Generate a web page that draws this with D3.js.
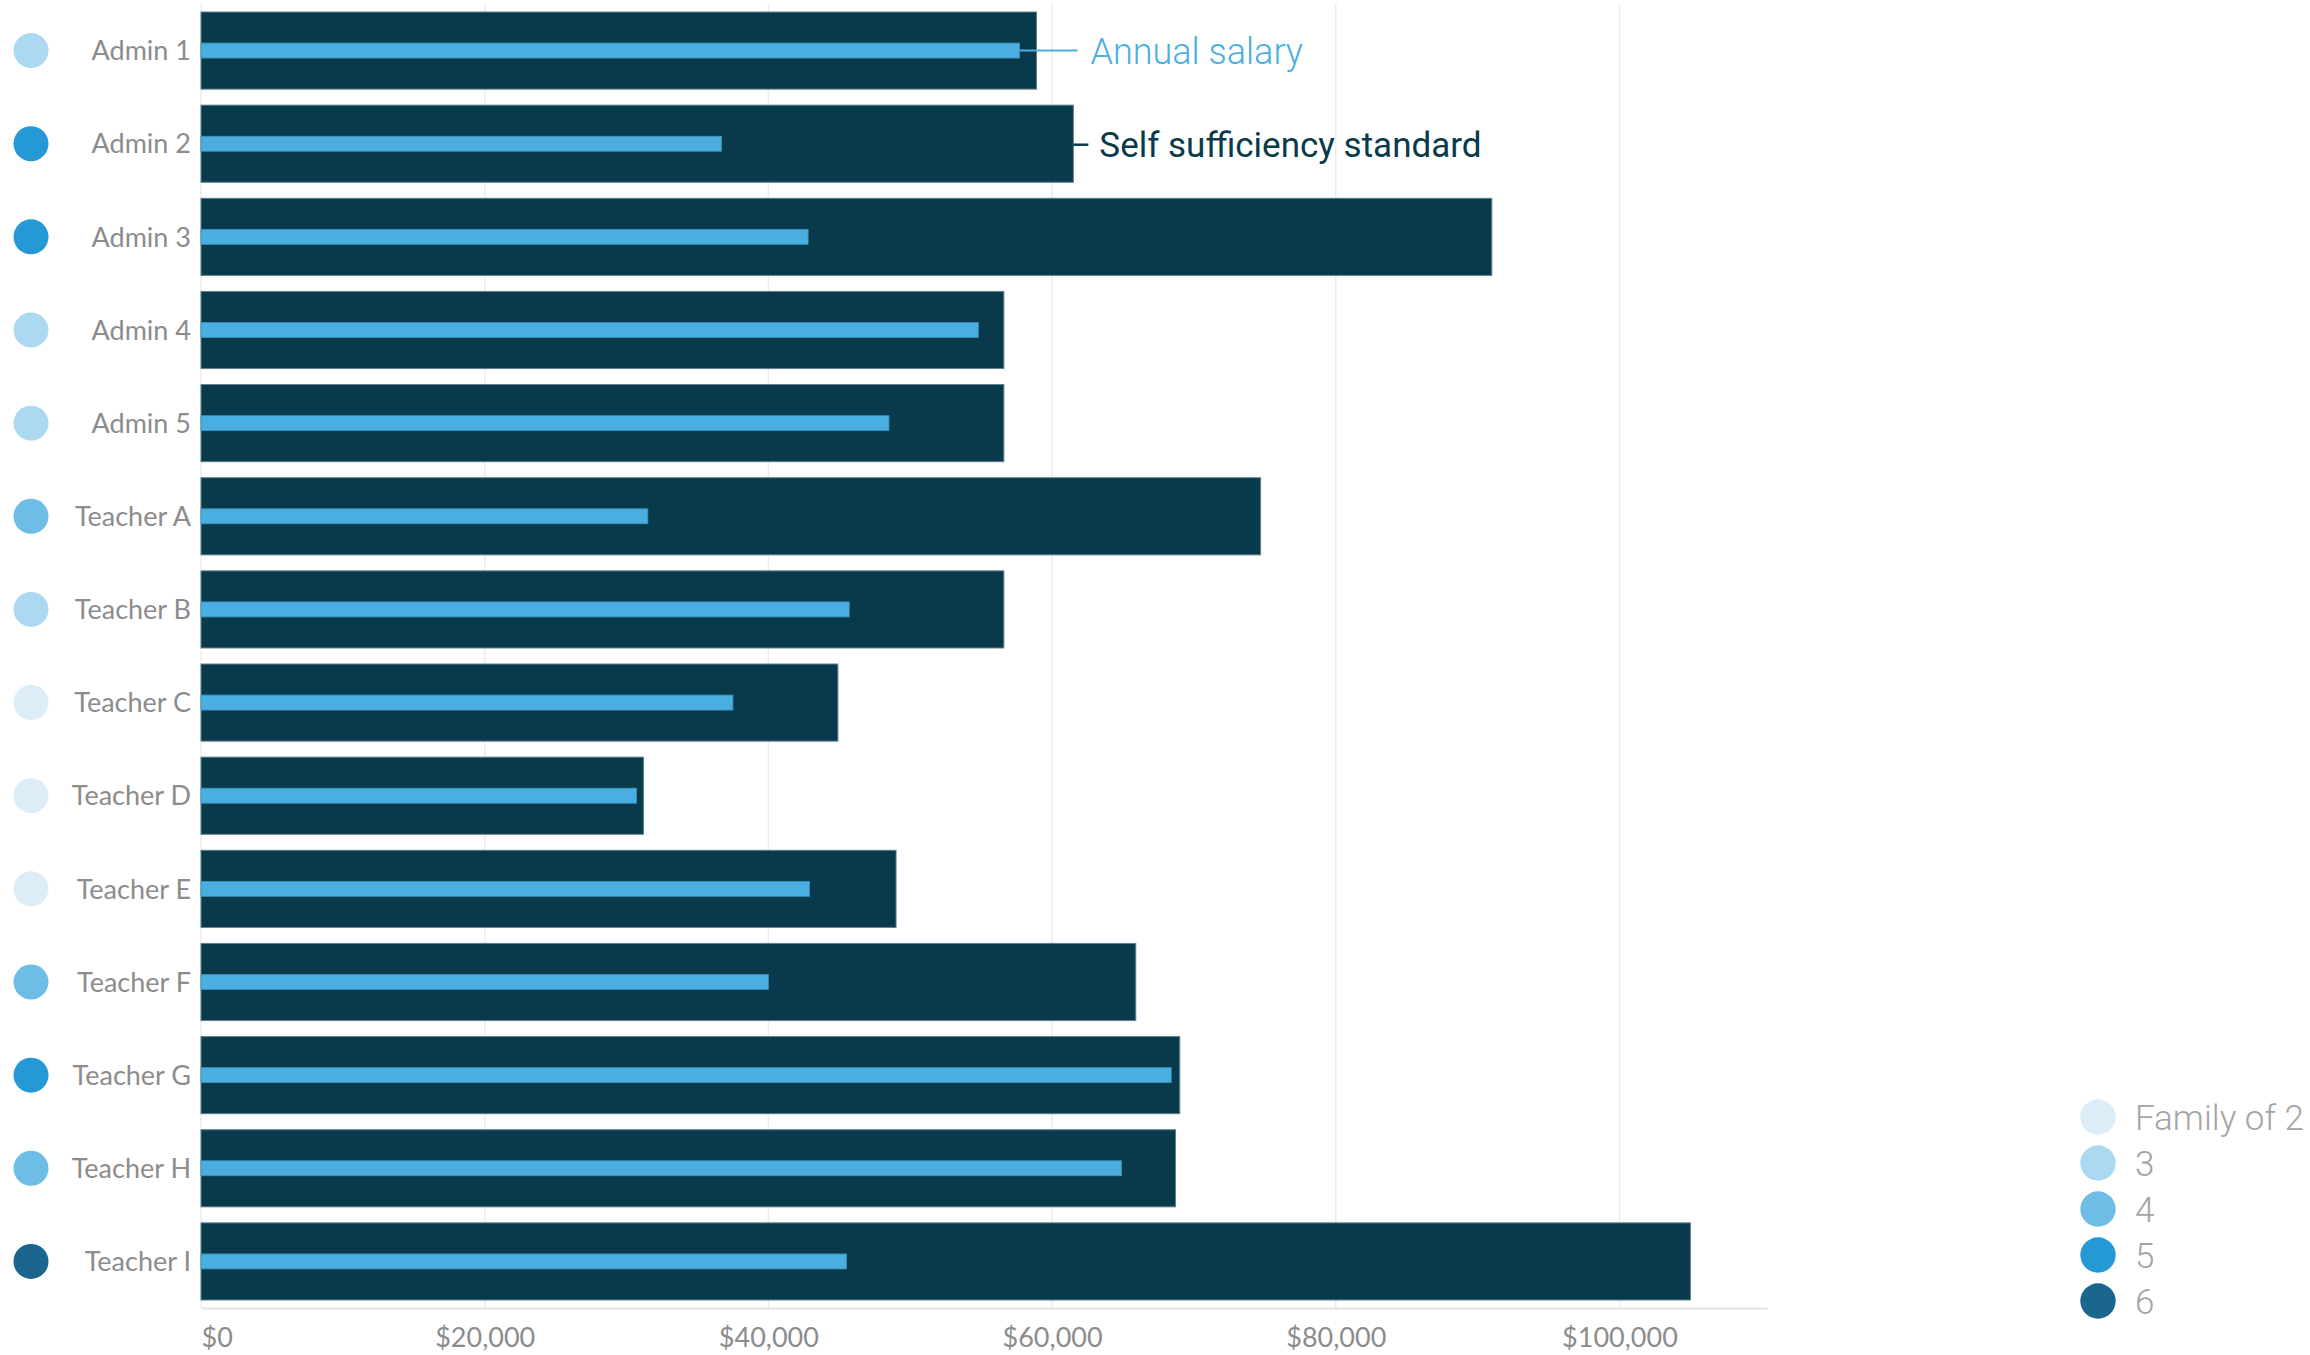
<!DOCTYPE html>
<html>
<head>
<meta charset="utf-8">
<script src="https://cdn.jsdelivr.net/npm/d3@7"></script>
<style>
  html, body { margin: 0; padding: 0; background: #ffffff; }
  svg { display: block; }
</style>
</head>
<body>
<svg id="chart" width="2310" height="1355"></svg>
<script>
// Staff members, their household size and the two dollar amounts compared per row
const staff = ["Admin 1", "Admin 2", "Admin 3", "Admin 4", "Admin 5",
  "Teacher A", "Teacher B", "Teacher C", "Teacher D", "Teacher E",
  "Teacher F", "Teacher G", "Teacher H", "Teacher I"];
const familySize = [3, 5, 5, 3, 3, 4, 3, 2, 2, 2, 4, 5, 4, 6];
const selfSufficiency = [58900, 61500, 91000, 56600, 56600, 74700, 56600,
  44900, 31200, 49000, 65900, 69000, 68700, 105000];
const annualSalary = [57700, 36700, 42800, 54800, 48500, 31500, 45700,
  37500, 30700, 42900, 40000, 68400, 64900, 45500];
const tickValues = [0, 20000, 40000, 60000, 80000, 100000];
const familyLevels = [2, 3, 4, 5, 6];
const familyLabels = ["Family of 2", "3", "4", "5", "6"];
const axisMax = 110400;

const rows = staff.map((name, i) => ({
  name, family: familySize[i], need: selfSufficiency[i], salary: annualSalary[i]
}));

const svg = d3.select("#chart");

const x = d3.scaleLinear().domain([0, axisMax]).range([201, 1767]);
const y = d3.scaleBand().domain(staff).range([4, 1308])
  .paddingInner(0.172).paddingOuter(0.086);
const familyColor = d3.scaleOrdinal().domain(familyLevels)
  .range(["#dcedf8", "#acd9f1", "#6ebde6", "#2499d5", "#1a668f"]);

const labelFont = "Lato, 'Open Sans', sans-serif";
const noteFont = "Roboto, 'Noto Sans', sans-serif";

// vertical gridlines
svg.append("g").selectAll("line").data(tickValues).join("line")
  .attr("x1", d => x(d)).attr("x2", d => x(d))
  .attr("y1", 4).attr("y2", 1308)
  .attr("stroke", "#ececec").attr("stroke-width", 1.5);

// bottom axis
const axis = svg.append("g").attr("transform", "translate(0,1308)")
  .call(d3.axisBottom(x).tickValues(tickValues)
    .tickFormat(d3.format("$,")).tickSize(0).tickPadding(20));
axis.select(".domain").attr("stroke", "#e4e4e4").attr("stroke-width", 2);
axis.selectAll("text")
  .attr("font-family", labelFont).attr("font-size", 27)
  .attr("fill", "#8c8c8c")
  .attr("text-anchor", d => d === 0 ? "start" : "middle");

// self sufficiency standard bars
svg.append("g").selectAll("rect").data(rows).join("rect")
  .attr("x", x(0)).attr("y", d => y(d.name))
  .attr("width", d => x(d.need) - x(0)).attr("height", y.bandwidth())
  .attr("fill", "#093a4b").attr("stroke", "#5f808b").attr("stroke-width", 1);

// annual salary bars
const salaryH = 15;
svg.append("g").selectAll("rect").data(rows).join("rect")
  .attr("x", x(0)).attr("y", d => y(d.name) + y.bandwidth() / 2 - salaryH / 2)
  .attr("width", d => x(d.salary) - x(0)).attr("height", salaryH)
  .attr("fill", "#4aafe0").attr("stroke", "#3b8fbb").attr("stroke-width", 0.8);

// category labels
svg.append("g").selectAll("text").data(rows).join("text")
  .attr("x", 191).attr("y", d => y(d.name) + y.bandwidth() / 2)
  .attr("dy", "0.36em").attr("text-anchor", "end")
  .attr("font-family", labelFont).attr("font-size", 27)
  .attr("fill", "#8c8c8c").text(d => d.name);

// family size dots
svg.append("g").selectAll("circle").data(rows).join("circle")
  .attr("cx", 31).attr("cy", d => y(d.name) + y.bandwidth() / 2)
  .attr("r", 17.5).attr("fill", d => familyColor(d.family));

// annotations on the first two rows
const first = rows[0], second = rows[1];
const cy1 = y(first.name) + y.bandwidth() / 2;
const cy2 = y(second.name) + y.bandwidth() / 2;
svg.append("line")
  .attr("x1", x(first.salary)).attr("x2", x(first.salary) + 58)
  .attr("y1", cy1).attr("y2", cy1)
  .attr("stroke", "#4aafe0").attr("stroke-width", 2);
svg.append("text")
  .attr("x", x(first.salary) + 71).attr("y", cy1).attr("dy", "0.36em")
  .attr("font-family", noteFont).attr("font-weight", 300).attr("font-size", 36)
  .attr("fill", "#4aafe0").text("Annual salary");
svg.append("line")
  .attr("x1", x(second.need)).attr("x2", x(second.need) + 15)
  .attr("y1", cy2 + 1).attr("y2", cy2 + 1)
  .attr("stroke", "#093a4b").attr("stroke-width", 2.5);
svg.append("text")
  .attr("x", x(second.need) + 26).attr("y", cy2 + 1).attr("dy", "0.36em")
  .attr("font-family", noteFont).attr("font-size", 35)
  .attr("fill", "#093a4b").text("Self sufficiency standard");

// family size legend
const legend = svg.append("g").selectAll("g").data(familyLevels).join("g")
  .attr("transform", (d, i) => `translate(2098,${1117 + i * 46})`);
legend.append("circle").attr("r", 17.7).attr("fill", d => familyColor(d));
legend.append("text")
  .attr("x", 37).attr("dy", "0.36em")
  .attr("font-family", noteFont).attr("font-weight", 300).attr("font-size", 35)
  .attr("fill", "#a4a4a4").text((d, i) => familyLabels[i]);
</script>
</body>
</html>
